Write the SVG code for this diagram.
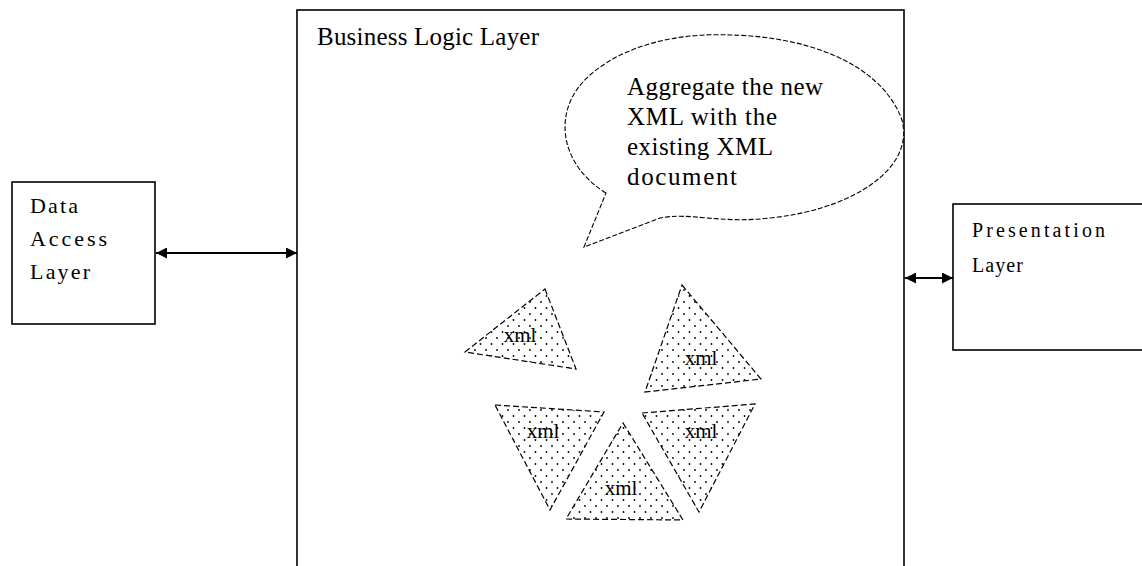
<svg xmlns="http://www.w3.org/2000/svg" width="1142" height="566" viewBox="0 0 1142 566">
<style>
.box{fill:#fff;stroke:#000;stroke-width:1.6}
.t{font-family:"Liberation Serif","Times New Roman",serif;fill:#000}
.x{font-family:"Liberation Serif","Times New Roman",serif;font-size:21px;fill:#000;text-anchor:middle}
.tri{fill:url(#dots);stroke:#000;stroke-width:1.2;stroke-dasharray:6 3}
.bub{fill:#fff;stroke:#000;stroke-width:1.1;stroke-dasharray:5 2}
.conn{stroke:#000;stroke-width:2;fill:none}
</style>
<defs>
<pattern id="dots" width="11" height="12" patternUnits="userSpaceOnUse">
<rect width="11" height="12" fill="#fff"/>
<circle cx="2" cy="2" r="0.9" fill="#000"/>
<circle cx="7.5" cy="8" r="0.9" fill="#000"/>
</pattern>
<marker id="ah" viewBox="0 0 10 10" refX="10" refY="5" markerWidth="15" markerHeight="11" orient="auto-start-reverse" markerUnits="userSpaceOnUse">
<path d="M0,0 L10,5 L0,10 Z" fill="#000"/>
</marker>
</defs>
<rect width="1142" height="566" fill="#fff"/>
<g id="business-logic-layer">
<rect class="box" x="297" y="10" width="607" height="570"/>
<text class="t" x="317" y="45" font-size="25" textLength="222" lengthAdjust="spacing">Business Logic Layer</text>
</g>
<g id="data-access-layer">
<rect class="box" x="12" y="182" width="143" height="142"/>
<text class="t" x="30" y="213" font-size="22" textLength="48" lengthAdjust="spacing">Data</text>
<text class="t" x="30" y="246" font-size="22" textLength="77" lengthAdjust="spacing">Access</text>
<text class="t" x="30" y="279" font-size="22" textLength="60" lengthAdjust="spacing">Layer</text>
</g>
<g id="presentation-layer">
<rect class="box" x="953" y="204" width="200" height="146"/>
<text class="t" x="972" y="237" font-size="20" textLength="133" lengthAdjust="spacing">Presentation</text>
<text class="t" x="972" y="272" font-size="20" textLength="51" lengthAdjust="spacing">Layer</text>
</g>
<g id="speech-bubble">
<path class="bub" d="M606,193 C560,165 550,110 590,75 C630,40 690,33 730,35 C800,36 880,60 902,120 C915,170 850,210 770,218 C720,224 690,212 660,218 L584,247 Z"/>
<text class="t" x="627" y="95" font-size="25" textLength="196" lengthAdjust="spacing">Aggregate the new</text>
<text class="t" x="627" y="125" font-size="25" textLength="150" lengthAdjust="spacing">XML with the</text>
<text class="t" x="627" y="155" font-size="25" textLength="146" lengthAdjust="spacing">existing XML</text>
<text class="t" x="627" y="185" font-size="25" textLength="110" lengthAdjust="spacing">document</text>
</g>
<g id="xml-1">
<polygon class="tri" points="545,289 576,369 465,352"/>
<text class="x" x="520" y="342">xml</text>
</g>
<g id="xml-2">
<polygon class="tri" points="682,285 761,379 645,392"/>
<text class="x" x="701" y="365">xml</text>
</g>
<g id="xml-3">
<polygon class="tri" points="495,405 604,412 550,510"/>
<text class="x" x="543" y="438">xml</text>
</g>
<g id="xml-4">
<polygon class="tri" points="623,423 683,520 566,519"/>
<text class="x" x="621" y="495">xml</text>
</g>
<g id="xml-5">
<polygon class="tri" points="642,413 755,404 699,512"/>
<text class="x" x="701" y="438">xml</text>
</g>
<g id="connectors">
<line class="conn" x1="156" y1="253" x2="297" y2="253" marker-start="url(#ah)" marker-end="url(#ah)"/>
<line class="conn" x1="905" y1="278" x2="953" y2="278" marker-start="url(#ah)" marker-end="url(#ah)"/>
</g>
</svg>
